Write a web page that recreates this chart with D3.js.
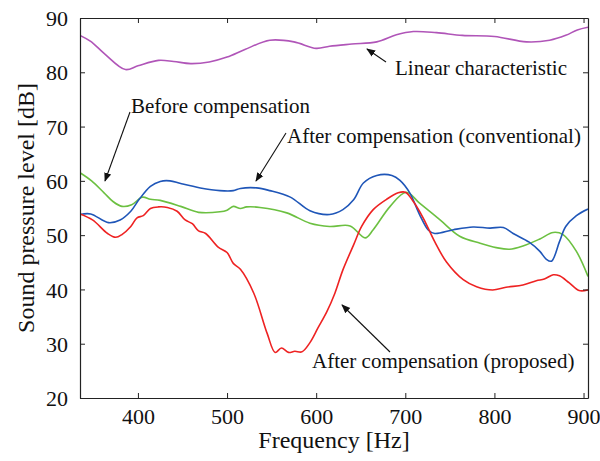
<!DOCTYPE html>
<html><head><meta charset="utf-8">
<script src="https://cdn.jsdelivr.net/npm/d3@7"></script>
<style>body{margin:0;background:#fff}svg{display:block}</style>
</head><body><svg id="c" width="600" height="461"></svg>
<script>
const xTicks=[400,500,600,700,800,900];
const yTicks=[20,30,40,50,60,70,80,90];
const linearF=[335,347,362,386,400,423,440,459,480,500,520,548,575,600,615,640,668,690,709,735,764,800,836,862,880,893,905];
const linearV=[86.8,85.7,83.5,80.5,81.2,82.2,82.0,81.6,81.9,82.8,84.2,85.9,85.6,84.4,84.8,85.2,85.6,86.9,87.5,87.3,86.8,86.6,85.6,85.9,86.8,87.8,88.3];
const beforeF=[335,348,362,372,382,393,405,414,425,448,468,492,500,507,515,522,537,567,593,615,638,655,664,683,701,716,739,761,784,802,817,832,851,866,877,892,905];
const beforeV=[61.5,60.0,57.8,56.2,55.3,55.6,57.0,56.6,56.4,55.3,54.2,54.3,54.6,55.3,54.9,55.2,55.1,54.1,52.2,51.6,51.7,49.5,51.0,55.3,57.9,55.9,52.8,49.8,48.5,47.7,47.4,48.0,49.3,50.5,50.1,47.0,42.4];
const convF=[335,347,367,380,392,401,414,425,436,448,470,492,507,515,533,548,571,593,615,630,642,653,668,685,694,705,716,726,733,754,776,795,810,821,839,851,858,864,873,880,892,905];
const convV=[53.8,53.9,52.3,52.8,54.4,56.5,59.0,59.9,60.0,59.5,58.7,58.2,58.2,58.6,58.7,58.2,57.0,54.5,53.8,54.7,56.5,59.6,61.0,61.0,60.1,57.8,53.8,50.9,50.3,51.0,51.5,51.3,51.4,50.3,48.7,47.0,45.6,45.2,48.8,51.6,53.6,54.8];
const propF=[335,349,366,375,382,392,399,406,414,423,433,444,453,461,468,476,490,500,507,515,530,545,554,561,569,576,584,593,602,612,621,630,642,651,664,679,692,700,709,720,733,746,765,780,798,813,832,847,856,866,873,884,895,905];
const propV=[53.9,52.8,50.3,49.6,50.1,51.6,53.2,53.6,54.9,55.2,55.1,54.4,52.8,52.1,50.8,50.3,47.8,46.8,44.8,43.7,39.3,31.9,28.4,29.2,28.4,28.6,28.5,30.2,32.9,35.9,39.3,43.6,48.2,51.6,54.7,56.6,57.8,57.9,56.2,53.2,48.8,45.1,41.8,40.5,39.9,40.4,40.8,41.6,41.9,42.7,42.5,41.2,39.8,39.9];

const svg=d3.select("#c");
const L=80,R=588,T=18,B=398;
const x=d3.scaleLinear().domain([335,905]).range([L,R]);
const y=d3.scaleLinear().domain([20,90]).range([B,T]);
const font="'Liberation Serif','Times New Roman',serif";
const axCol="#222";

const series=[
 {f:linearF,v:linearV,c:"#b055b8"},
 {f:beforeF,v:beforeV,c:"#6cc041"},
 {f:convF,v:convV,c:"#1f56b8"},
 {f:propF,v:propV,c:"#ee2222"}
];
const line=d3.line().x(d=>x(d[0])).y(d=>y(d[1])).curve(d3.curveCatmullRom.alpha(0.5));
const g=svg.append("g");
g.append("defs").append("clipPath").attr("id","clip").append("rect").attr("x",L).attr("y",T).attr("width",R-L).attr("height",B-T);
series.forEach(s=>{
  g.append("path").attr("clip-path","url(#clip)").attr("d",line(s.f.map((f,i)=>[f,s.v[i]])))
   .attr("fill","none").attr("stroke",s.c).attr("stroke-width",1.6);
});

function styleAxis(sel){sel.select(".domain").attr("stroke",axCol).attr("stroke-width",1.2);
 sel.selectAll(".tick line").attr("stroke",axCol);
 sel.selectAll("text").attr("font-family",font).attr("font-size",22).attr("fill","#111");}
const xb=svg.append("g").attr("transform",`translate(0,${B})`).call(d3.axisBottom(x).tickValues(xTicks).tickSizeInner(-5).tickSizeOuter(0).tickPadding(10));
styleAxis(xb);
const xt=svg.append("g").attr("transform",`translate(0,${T})`).call(d3.axisTop(x).tickValues(xTicks).tickSizeInner(-5).tickSizeOuter(0).tickFormat(""));
styleAxis(xt);
const yl=svg.append("g").attr("transform",`translate(${L},0)`).call(d3.axisLeft(y).tickValues(yTicks).tickSizeInner(-5).tickSizeOuter(0).tickPadding(12));
styleAxis(yl);
yl.selectAll("text").attr("dy","0.35em");
const yr=svg.append("g").attr("transform",`translate(${R},0)`).call(d3.axisRight(y).tickValues(yTicks).tickSizeInner(-5).tickSizeOuter(0).tickFormat(""));
styleAxis(yr);

svg.append("text").attr("x",(L+R)/2).attr("y",448).attr("text-anchor","middle")
 .attr("font-family",font).attr("font-size",24).attr("fill","#111").text("Frequency [Hz]");
svg.append("text").attr("transform","translate(34,208) rotate(-90)").attr("text-anchor","middle")
 .attr("font-family",font).attr("font-size",24).attr("fill","#111").text("Sound pressure level [dB]");

const defs=svg.append("defs");
defs.append("marker").attr("id","ah").attr("viewBox","0 0 10 10").attr("refX",9).attr("refY",5)
 .attr("markerWidth",9).attr("markerHeight",9).attr("markerUnits","userSpaceOnUse").attr("orient","auto")
 .append("path").attr("d","M0,1 L10,5 L0,9 Z").attr("fill","#111");
const notes=[
 {t:"Linear characteristic",tx:395,ty:75,a:[[386,62],[367,49]]},
 {t:"Before compensation",tx:131,ty:113,a:[[130,112],[105,181]]},
 {t:"After compensation (conventional)",tx:287,ty:143,a:[[286,133],[256,181]]},
 {t:"After compensation (proposed)",tx:312,ty:368,a:[[390,352],[342,305]]}
];
notes.forEach(n=>{
 svg.append("text").attr("x",n.tx).attr("y",n.ty).attr("font-family",font).attr("font-size",21).attr("fill","#111").text(n.t);
 svg.append("line").attr("x1",n.a[0][0]).attr("y1",n.a[0][1]).attr("x2",n.a[1][0]).attr("y2",n.a[1][1])
  .attr("stroke","#111").attr("stroke-width",1.1).attr("marker-end","url(#ah)");
});
</script></body></html>
